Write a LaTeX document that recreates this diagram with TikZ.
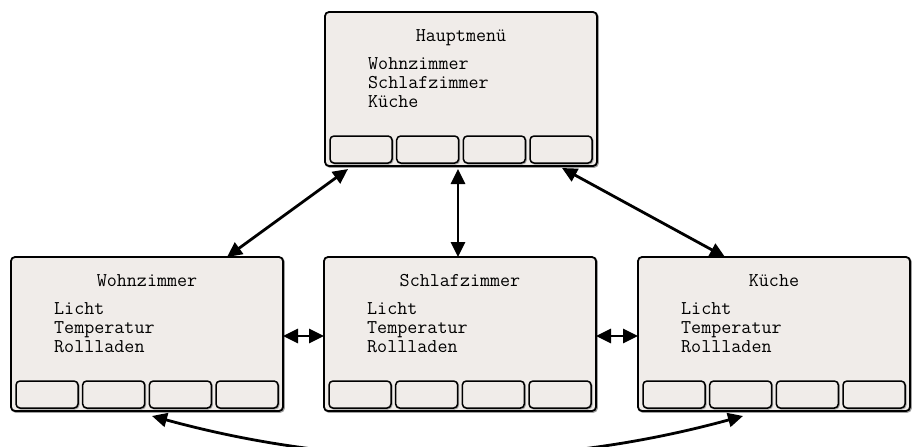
\documentclass[tikz,border=0pt]{standalone}
\usepackage{fontspec}
\usetikzlibrary{arrows.meta,calc,shadows}
\definecolor{screenfill}{RGB}{240,236,233}
\definecolor{shadowgray}{RGB}{160,160,160}
\newcommand\montext{\ttfamily\fontsize{19.5pt}{19pt}\selectfont}
\newcommand\drawscreen[6]{%
  \node[screen] (#1) at (#2) {};
  \node[screentitle] (#1-title) at ($(#1.north)+(0,29)$) {#3};
  \node[screenitem] (#1-a) at ($(#1.north west)+(43,57)$) {#4};
  \node[screenitem] (#1-b) at ($(#1.north west)+(43,76)$) {#5};
  \node[screenitem] (#1-c) at ($(#1.north west)+(43,95)$) {#6};
  \foreach \k in {0,1,2,3}{%
    \node[softkey] (#1-key\k) at ($(#1.south west)+({5+66.67*\k},-3)$) {};
  }%
}
\begin{document}
\begin{tikzpicture}[x=1pt,y=-1pt,
  screen/.style={draw=black, line width=1.8pt, fill=screenfill, rounded corners=4pt,
    minimum width=272pt, minimum height=154pt, anchor=north west, outer sep=0pt, inner sep=0pt,
    general shadow={shadow xshift=1pt, shadow yshift=-1pt, fill=shadowgray, draw=shadowgray}},
  softkey/.style={draw=black, line width=1.5pt, fill=screenfill, rounded corners=4pt,
    minimum width=62pt, minimum height=27pt, anchor=south west, outer sep=0pt, inner sep=0pt,
    general shadow={shadow xshift=0.8pt, shadow yshift=-0.8pt, fill=shadowgray, draw=shadowgray}},
  screentitle/.style={anchor=base, font=\montext, inner sep=0pt},
  screenitem/.style={anchor=base west, font=\montext, inner sep=0pt},
  link/.style={line width=2.8pt, {Triangle[length=15pt,width=14pt]}-{Triangle[length=15pt,width=14pt]}}
]
\clip (0,0) rectangle (919,447);
\drawscreen{top}{325,12}{Hauptmenü}{Wohnzimmer}{Schlafzimmer}{Küche}
\drawscreen{left}{11,257}{Wohnzimmer}{Licht}{Temperatur}{Rollladen}
\drawscreen{mid}{324,257}{Schlafzimmer}{Licht}{Temperatur}{Rollladen}
\drawscreen{right}{638,257}{Küche}{Licht}{Temperatur}{Rollladen}

\coordinate (tl) at ($(top.south west)+(23,3)$);
\coordinate (tm) at ($(top.south west)+(133,3)$);
\coordinate (tr) at ($(top.south west)+(237,2)$);
\coordinate (lt) at ($(left.north west)+(216,0)$);
\coordinate (mt) at ($(mid.north west)+(134,0)$);
\coordinate (rt) at ($(right.north west)+(87,0)$);
\coordinate (le) at ($(left.north east)+(0,79)$);
\coordinate (mw) at ($(mid.north west)+(0,79)$);
\coordinate (me) at ($(mid.north east)+(0,79)$);
\coordinate (rw) at ($(right.north west)+(0,79)$);
\coordinate (lb) at ($(left.south west)+(141,5)$);
\coordinate (rb) at ($(right.south west)+(105,5)$);
\coordinate (c1) at ($(lb)+(197,54)$);
\coordinate (c2) at ($(rb)+(-197,54)$);

\draw[link] (tl) -- (lt);
\draw[link] (tm) -- (mt);
\draw[link] (tr) -- (rt);
\draw[link] (le) -- (mw);
\draw[link] (me) -- (rw);
\draw[link] (lb) .. controls (c1) and (c2) .. (rb);
\end{tikzpicture}
\end{document}
